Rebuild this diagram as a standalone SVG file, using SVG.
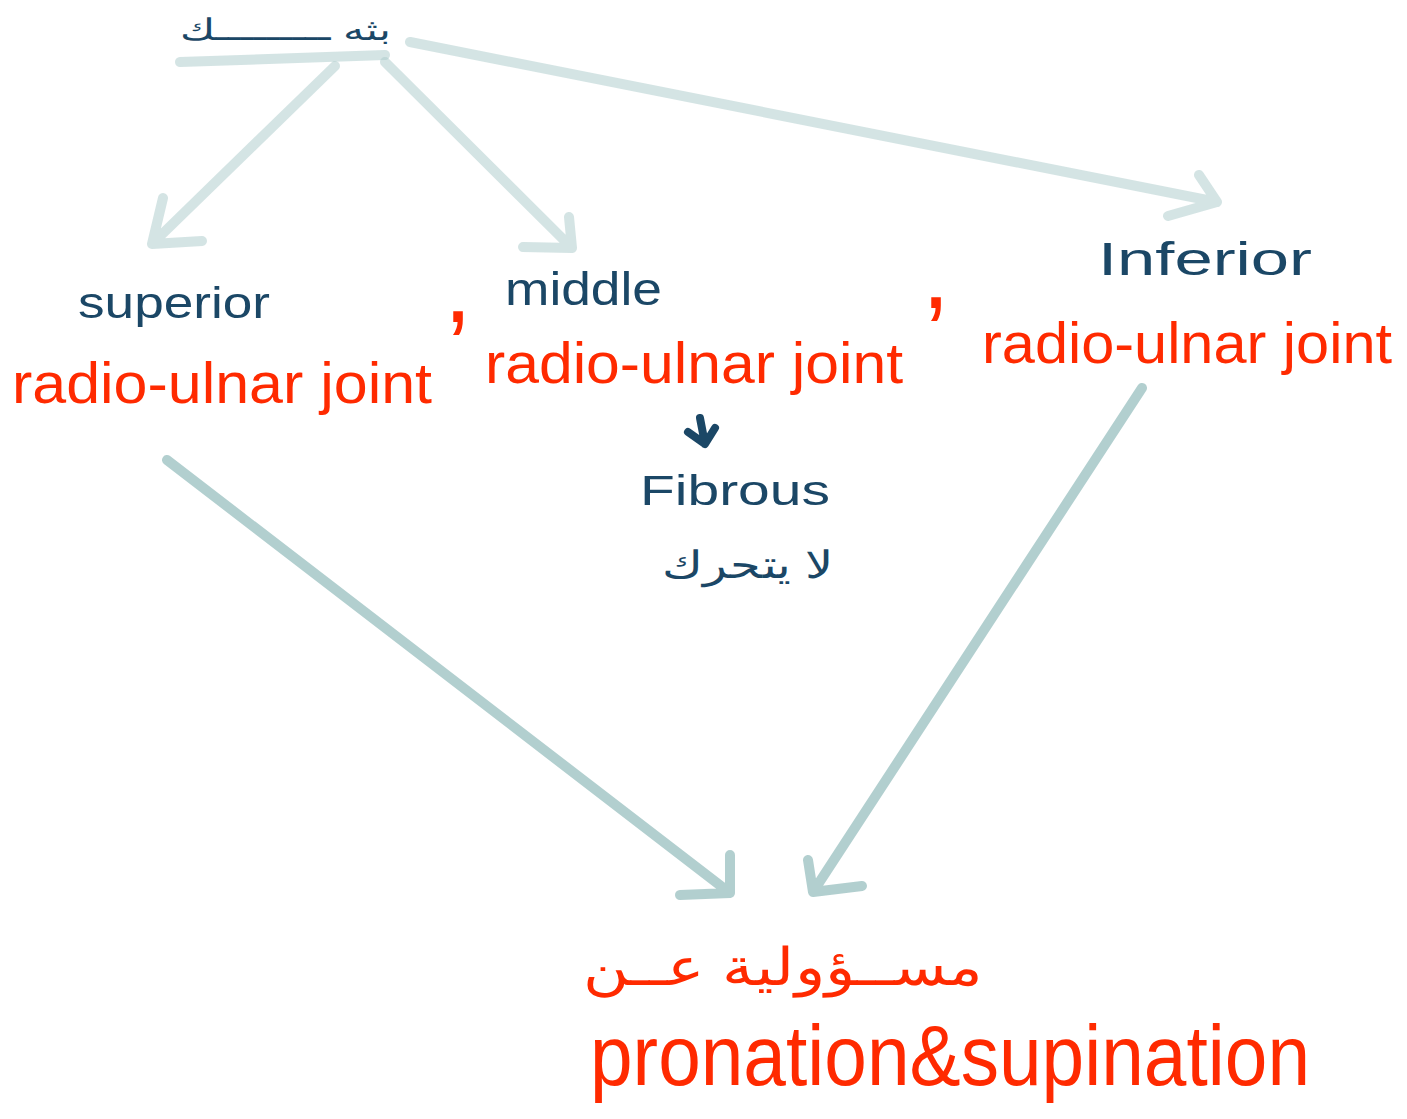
<svg xmlns="http://www.w3.org/2000/svg" width="1407" height="1119" viewBox="0 0 1407 1119">
<style>
.c1{fill:none;stroke:#a9c9c9;stroke-opacity:0.5;stroke-width:10;stroke-linecap:round;stroke-linejoin:round}
.c2{fill:none;stroke:#91baba;stroke-opacity:0.7;stroke-width:10;stroke-linecap:round;stroke-linejoin:round}
.navy{fill:#1b4766;font-family:"Liberation Sans","Noto Sans",sans-serif}
.red{fill:#ff2a00;font-family:"Liberation Sans","Noto Sans",sans-serif}
.rj{font-size:58px}
</style>
<rect width="1407" height="1119" fill="#ffffff"/>
<g id="connectors">
<path class="c1" d="M180,62 L385,55"/>
<path class="c1" d="M335,66 L152,244 M163,198 L152,244 L202,241"/>
<path class="c1" d="M385,62 L572,248 M569,217 L572,248 L523,247"/>
<path class="c1" d="M410,42 L1217,202 M1199,175 L1217,202 L1168,216"/>
<path class="c2" d="M167,460 L730,893 M730,855 L730,893 L680,895"/>
<path class="c2" d="M1142,388 L813,892 M808,860 L813,892 L862,886"/>
</g>
<g id="title">
<text class="navy" x="285" y="40" font-size="30" text-anchor="middle" textLength="210" lengthAdjust="spacingAndGlyphs" direction="rtl">بثه ـــــــــك</text>
</g>
<g id="superior">
<text class="navy" x="78" y="318" font-size="44" textLength="192" lengthAdjust="spacingAndGlyphs">superior</text>
<text class="red rj" x="12" y="403" textLength="420" lengthAdjust="spacingAndGlyphs">radio-ulnar joint</text>
<text class="red" x="444" y="322" font-size="100">,</text>
</g>
<g id="middle">
<text class="navy" x="505" y="305" font-size="46" textLength="157" lengthAdjust="spacingAndGlyphs">middle</text>
<text class="red rj" x="485" y="383" textLength="418" lengthAdjust="spacingAndGlyphs">radio-ulnar joint</text>
<text class="red" x="922" y="308" font-size="100">,</text>
<path d="M700,418 L705,444 L715,428 M705,444 L688,432" fill="none" stroke="#1b4766" stroke-width="8" stroke-linecap="round" stroke-linejoin="round"/>
<text class="navy" x="640" y="505" font-size="42" textLength="190" lengthAdjust="spacingAndGlyphs">Fibrous</text>
<text class="navy" x="748" y="578" font-size="38" text-anchor="middle" textLength="172" lengthAdjust="spacingAndGlyphs" direction="rtl">لا يتحرك</text>
</g>
<g id="inferior">
<text class="navy" x="1098" y="275" font-size="46" textLength="214" lengthAdjust="spacingAndGlyphs">Inferior</text>
<text class="red rj" x="982" y="363" textLength="410" lengthAdjust="spacingAndGlyphs">radio-ulnar joint</text>
</g>
<g id="result">
<text class="red" x="783" y="985" font-size="52" text-anchor="middle" textLength="400" lengthAdjust="spacingAndGlyphs" direction="rtl">مســؤولية عــن</text>
<text class="red" x="590" y="1085" font-size="86" textLength="720" lengthAdjust="spacingAndGlyphs">pronation&amp;supination</text>
</g>
</svg>
